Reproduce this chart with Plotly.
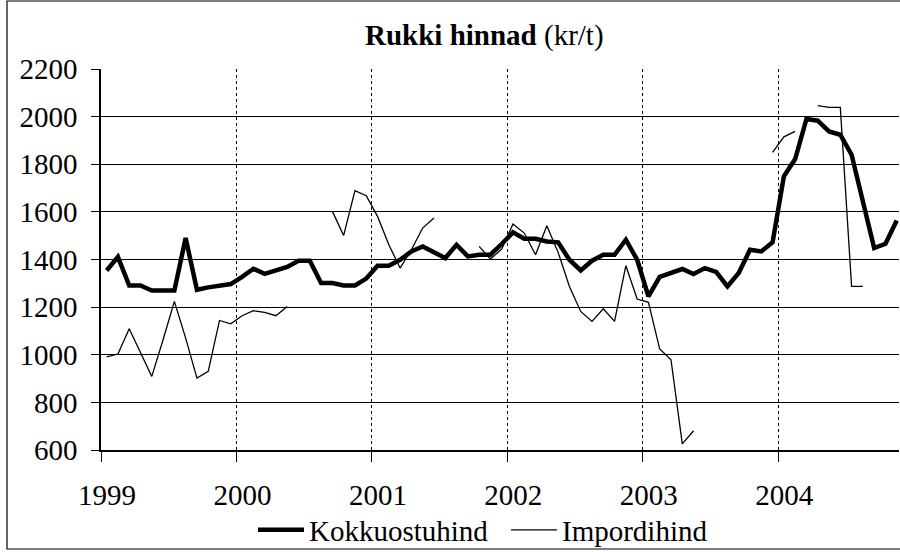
import plotly.graph_objects as go

# Monthly data, Jan 1999 (index 0) .. Nov 2004 (index 70)
years = ["1999", "2000", "2001", "2002", "2003", "2004"]
kokkuostuhind = [
    1354, 1411, 1291, 1291, 1270, 1270, 1270, 1490, 1273, 1283, 1290, 1297,  # 1999
    1327, 1361, 1340, 1357, 1369, 1395, 1395, 1301, 1301, 1291, 1291, 1320,  # 2000
    1374, 1374, 1399, 1434, 1455, 1430, 1406, 1462, 1413, 1420, 1420, 1465,  # 2001
    1514, 1487, 1487, 1476, 1472, 1399, 1354, 1395, 1420, 1420, 1483, 1399,  # 2002
    1245, 1327, 1343, 1360, 1339, 1364, 1348, 1287, 1343, 1441, 1434, 1472,  # 2003
    1749, 1822, 1990, 1983, 1938, 1924, 1840, 1650, 1448, 1466, 1564,        # 2004
]
N = None
impordihind = [
    991, 1003, 1109, 1010, 909, 1063, 1224, 1070, 902, 930, 1144, 1130,      # 1999
    1164, 1185, 1178, 1164, 1203, N, N, N, 1602, 1501, 1689, 1668,            # 2000
    1581, 1462, 1364, 1441, 1532, 1574, N, N, N, 1455, 1402, 1444,            # 2001
    1549, 1511, 1420, 1542, 1430, 1287, 1182, 1140, 1193, 1140, 1374, 1234,   # 2002
    1220, 1024, 979, 626, 681, N, N, N, N, N, N, 1850,                        # 2003
    1915, 1938, N, 2046, 2039, 2039, 1287, 1287, N, N, N,                     # 2004
]

x = [i + 0.5 for i in range(len(kokkuostuhind))]
FONT = "Liberation Serif"

fig = go.Figure()
fig.add_trace(go.Scatter(x=x, y=kokkuostuhind, mode="lines", name="Kokkuostuhind",
                         line=dict(color="black", width=4.5)))
fig.add_trace(go.Scatter(x=x, y=impordihind, mode="lines", name="Impordihind",
                         line=dict(color="black", width=1.3), connectgaps=False))

W, H = 900, 552
L, R, T, B = 101, 1, 69, 102
pw, ph = W - L - R, H - T - B

def px_x(px):
    return (px - L) / pw

def px_y(py):
    return (H - B - py) / ph

# open frame (left, top, bottom) - the right side lies outside the picture
xl, xr = px_x(7), px_x(960)
yt, yb = px_y(1), px_y(549)
frame_path = f"M {xr},{yt} L {xl},{yt} L {xl},{yb} L {xr},{yb}"

fig.update_layout(
    width=W, height=H,
    margin=dict(l=L, r=R, t=T, b=B, autoexpand=False),
    paper_bgcolor="white", plot_bgcolor="white",
    font=dict(family=FONT, size=29, color="black"),
    showlegend=True,
    legend=dict(orientation="h", x=px_x(253), xanchor="left", y=px_y(530), yanchor="middle",
                font=dict(size=29, family=FONT), bgcolor="rgba(0,0,0,0)", itemwidth=46,
                entrywidth=192, tracegroupgap=0),
    xaxis=dict(range=[0, 70.7], tickmode="array", tickvals=[12 * i for i in range(len(years))],
               ticktext=years, ticks="outside", ticklen=10, tickcolor="black", tickwidth=1,
               showgrid=True, gridcolor="black", gridwidth=1, griddash="dot",
               showline=True, linecolor="black", linewidth=1.5, zeroline=False,
               automargin=False, ticklabelshift=6, ticklabelstandoff=8,
               tickfont=dict(size=29, family=FONT)),
    yaxis=dict(range=[600, 2200], tickmode="linear", tick0=600, dtick=200,
               ticks="outside", ticklen=8, tickcolor="black", tickwidth=1,
               showgrid=True, gridcolor="black", gridwidth=1,
               showline=True, linecolor="black", linewidth=1.5, zeroline=False,
               automargin=False, ticklabelstandoff=8, tickfont=dict(size=29, family=FONT)),
    annotations=[dict(text="<b>Rukki hinnad</b> (kr/t)", xref="paper", yref="paper",
                      x=px_x(484), y=px_y(36), xanchor="center", yanchor="middle",
                      showarrow=False, font=dict(size=29, family=FONT))],
    shapes=[dict(type="path", xref="paper", yref="paper", path=frame_path,
                 line=dict(color="black", width=1.2), layer="above")],
)

fig.write_html("out.html", config={"displayModeBar": False},
               post_script="document.body.style.margin='0';document.body.style.overflow='hidden';")
